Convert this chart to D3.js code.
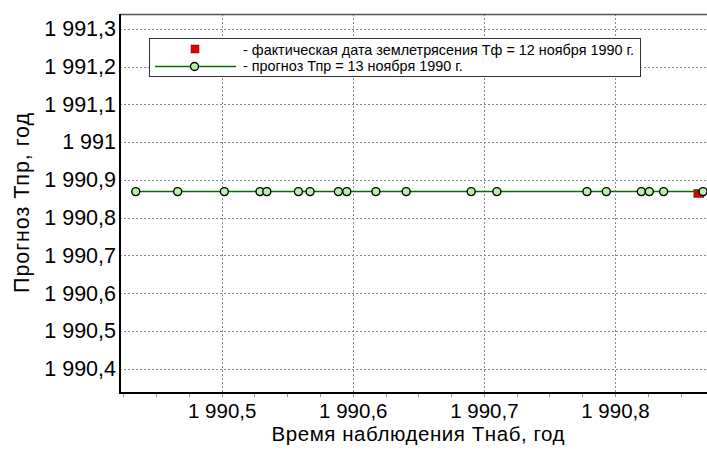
<!DOCTYPE html>
<html><head><meta charset="utf-8">
<script src="https://cdn.jsdelivr.net/npm/d3@7"></script>
<style>
html,body{margin:0;padding:0;background:#fff;}
svg{display:block;font-family:"Liberation Sans",Arial,sans-serif;}
</style></head>
<body>
<svg id="c" width="707" height="450"></svg>
<script>
// Observation times (Тнаб, year) of forecast points
const obsTimes = [1990.4344,1990.4664,1990.502,1990.5292,1990.5344,1990.5585,1990.5674,1990.589,1990.5954,1990.6176,1990.6407,1990.6903,1990.7099,1990.7786,1990.7934,1990.8201,1990.8262,1990.8371,1990.8672];
// Forecast values (Тпр, year) — 13 Nov 1990
const forecastValues = [1990.869,1990.869,1990.869,1990.869,1990.869,1990.869,1990.869,1990.869,1990.869,1990.869,1990.869,1990.869,1990.869,1990.869,1990.869,1990.869,1990.869,1990.869,1990.869];
// Actual earthquake date (Тф) — 12 Nov 1990
const actualX = [1990.864];
const actualY = [1990.864];
const yTicks = [1990.4,1990.5,1990.6,1990.7,1990.8,1990.9,1991.0,1991.1,1991.2,1991.3];
const xTicks = [1990.5,1990.6,1990.7,1990.8];
const legendLabels = ["- фактическая дата землетрясения Тф = 12 ноября 1990 г.","- прогноз Тпр = 13 ноября 1990 г."];
const xTitle = "Время наблюдения Тнаб, год";
const yTitle = "Прогноз Тпр, год";

const L=120, R=707, T=14, B=393;
const x = d3.scaleLinear().domain([1990.4224,1990.8702]).range([L,R]);
const y = d3.scaleLinear().domain([1990.336,1991.339]).range([B,T]);
const svg = d3.select("#c");

function fmt(v){
  const s = (Math.round(v*10)/10).toFixed(1);
  let [ip,fp] = s.split(".");
  ip = ip.replace(/\B(?=(\d{3})+(?!\d))/g," ");
  return fp==="0" ? ip : ip+","+fp;
}

// grid
const grid = svg.append("g").attr("stroke","#8a8a8a").attr("stroke-width",1).attr("stroke-dasharray","2,2");
grid.selectAll("line.h").data(yTicks).enter().append("line")
  .attr("x1",L).attr("x2",R).attr("y1",d=>Math.round(y(d))+0.5).attr("y2",d=>Math.round(y(d))+0.5);
grid.selectAll("line.v").data(xTicks).enter().append("line")
  .attr("y1",T).attr("y2",B).attr("x1",d=>Math.round(x(d))+0.5).attr("x2",d=>Math.round(x(d))+0.5);

// top border
svg.append("line").attr("x1",L).attr("x2",R).attr("y1",T+0.5).attr("y2",T+0.5).attr("stroke","#555").attr("stroke-width",1.5);

// x axis
const xAxis = d3.axisBottom(x).tickValues(xTicks).tickFormat(fmt).tickSize(0).tickPadding(10);
const gx = svg.append("g").attr("transform",`translate(0,${B})`).call(xAxis);
gx.select(".domain").remove();
gx.selectAll("text").attr("font-size",20.5).attr("fill","#000").attr("font-family","Liberation Sans, Arial, sans-serif");
// minor ticks
const minor = d3.range(1990.425,1990.871,0.025);
svg.append("g").selectAll("line").data(minor).enter().append("line")
  .attr("x1",d=>Math.round(x(d))+0.5).attr("x2",d=>Math.round(x(d))+0.5).attr("y1",B+1).attr("y2",B+4)
  .attr("stroke","#999").attr("stroke-width",1);

// y axis
const yAxis = d3.axisLeft(y).tickValues(yTicks).tickFormat(fmt).tickSize(0).tickPadding(4);
const gy = svg.append("g").attr("transform",`translate(${L},0)`).call(yAxis);
gy.select(".domain").remove();
gy.selectAll("text").attr("font-size",21.5).attr("fill","#000").attr("font-family","Liberation Sans, Arial, sans-serif");

// axis lines
svg.append("line").attr("x1",L).attr("x2",L).attr("y1",T).attr("y2",B+1).attr("stroke","#000").attr("stroke-width",2);
svg.append("line").attr("x1",L-1).attr("x2",R).attr("y1",B).attr("y2",B).attr("stroke","#000").attr("stroke-width",2);

// actual marker
svg.append("g").selectAll("rect").data(actualX).enter().append("rect")
  .attr("x",(d)=>x(d)-5).attr("y",(d,i)=>y(actualY[i])-4).attr("width",10).attr("height",8)
  .attr("fill","#e00000").attr("stroke","#800000").attr("stroke-width",0.5);

// forecast line
const pts = obsTimes.map((t,i)=>[t,forecastValues[i]]);
svg.append("path").datum(pts)
  .attr("d",d3.line().x(d=>x(d[0])).y(d=>y(d[1])))
  .attr("fill","none").attr("stroke","#0a6a0a").attr("stroke-width",1.5);
svg.append("g").selectAll("circle").data(pts).enter().append("circle")
  .attr("cx",d=>x(d[0])).attr("cy",d=>y(d[1])).attr("r",4)
  .attr("fill","#b8f2a8").attr("stroke","#000").attr("stroke-width",1.4);

// titles
svg.append("text").attr("x",418).attr("y",441).attr("text-anchor","middle")
  .attr("font-size",20.5).attr("fill","#000").attr("textLength",293).attr("lengthAdjust","spacing").text(xTitle);
svg.append("text").attr("transform",`translate(29,203) rotate(-90)`).attr("text-anchor","middle")
  .attr("font-size",21.5).attr("fill","#000").attr("textLength",180).attr("lengthAdjust","spacing").text(yTitle);

// legend
const lg = svg.append("g");
lg.append("rect").attr("x",149.5).attr("y",38.5).attr("width",491).attr("height",38)
  .attr("fill","#fff").attr("stroke","#333").attr("stroke-width",1);
lg.append("rect").attr("x",191).attr("y",45).attr("width",8).attr("height",8).attr("fill","#e00000").attr("stroke","#800000").attr("stroke-width",0.5);
lg.append("line").attr("x1",155).attr("x2",236).attr("y1",66.5).attr("y2",66.5).attr("stroke","#0a6a0a").attr("stroke-width",1.5);
lg.append("circle").attr("cx",194.5).attr("cy",66.5).attr("r",4).attr("fill","#b8f2a8").attr("stroke","#000").attr("stroke-width",1.4);
lg.selectAll("text.l").data(legendLabels).enter().append("text")
  .attr("x",243).attr("y",(d,i)=>54.5+i*16.5).attr("font-size",14.4).attr("fill","#000").text(d=>d);
</script>
</body></html>
